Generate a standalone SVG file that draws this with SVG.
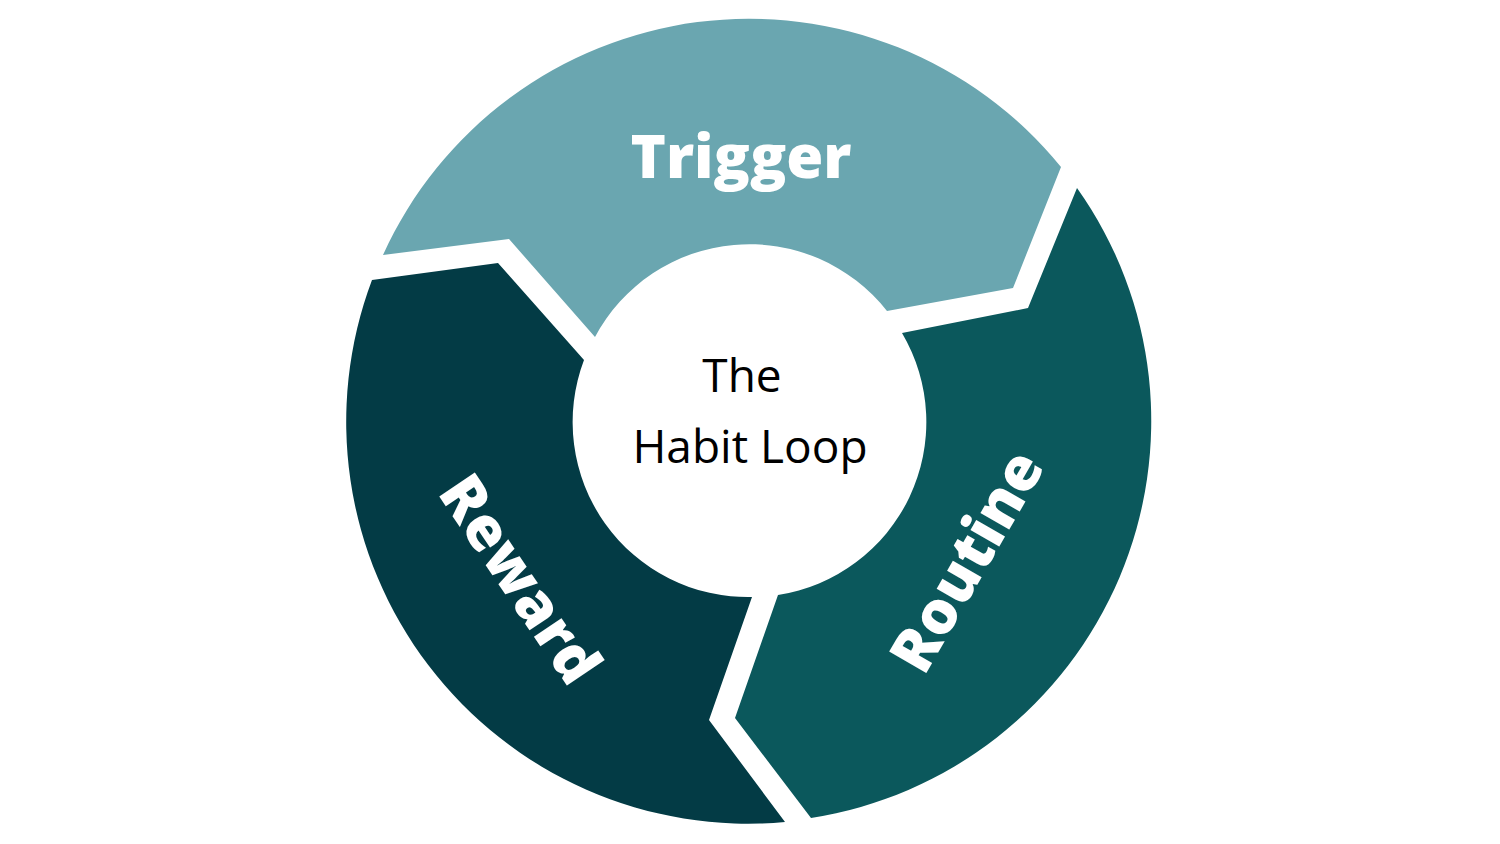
<svg xmlns="http://www.w3.org/2000/svg" width="1500" height="844" viewBox="0 0 1500 844">
<style>
.lbl{font-family:"Open Sans","Liberation Sans",sans-serif;font-weight:800;font-size:60px;fill:#fff;text-anchor:middle;dominant-baseline:central}
.ctr{font-family:"Open Sans","Liberation Sans",sans-serif;font-size:46px;fill:#000;text-anchor:middle}
</style>
<rect width="1500" height="844" fill="#fff"/>
<g id="trigger">
<path d="M383,255 A402,402 0 0 1 1061,167 L1013,288 L887,311 A175,175 0 0 0 595,337 L509,239 Z" fill="#6aa6b0"/>
<text class="lbl" x="741" y="155">Trigger</text>
</g>
<g id="routine">
<path d="M1077,188 A402,402 0 0 1 811,818 L735,718 L778,595 A175,175 0 0 0 902,333 L1028,308 Z" fill="#0b585c"/>
<text class="lbl" transform="translate(965,560) rotate(-60)">Routine</text>
</g>
<g id="reward">
<path d="M785,822 A402,402 0 0 1 372,280 L498,263 L584,360 A175,175 0 0 0 752,597 L709,720 Z" fill="#033b45"/>
<text class="lbl" transform="translate(522,578) rotate(56)">Reward</text>
</g>
<g id="center">
<text class="ctr" x="742" y="392">The</text>
<text class="ctr" x="750" y="463">Habit Loop</text>
</g>
<g id="connectors"></g>
</svg>
